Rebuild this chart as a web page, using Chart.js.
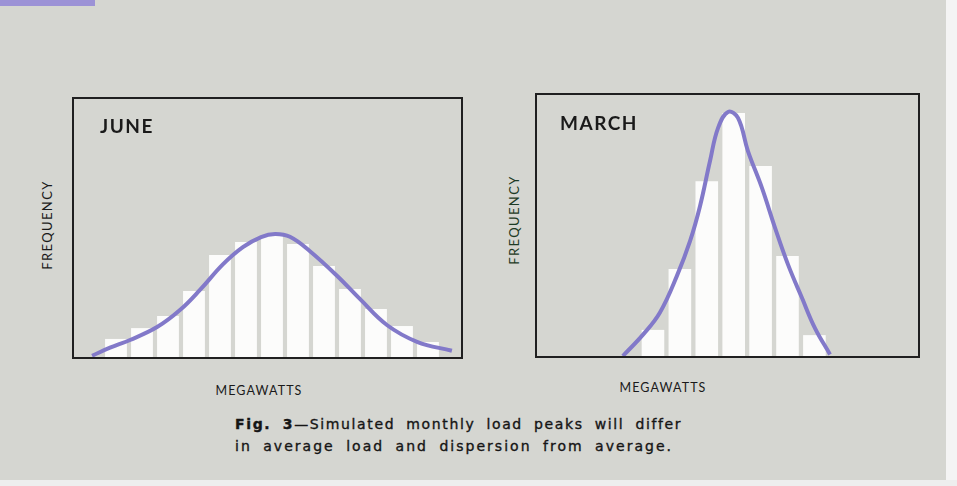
<!DOCTYPE html>
<html lang="en">
<head>
<meta charset="UTF-8">
<title>Fig. 3 - Simulated monthly load peaks</title>
<script src="https://cdn.jsdelivr.net/npm/chart.js"></script>
<style>
  html, body { margin: 0; padding: 0; }
  body {
    width: 957px; height: 486px; position: relative; overflow: hidden;
    background: #d5d6d1; font-family: "Lato", "Open Sans", sans-serif; color: #1a1a1a;
  }
  .frame { position: absolute; border: 2px solid #202020; }
  .frame canvas { position: absolute; left: 0; top: 0; }
  .title { position: absolute; font-weight: bold; font-size: 19px; letter-spacing: 1.5px; line-height: 19px; }
  .ylab, .xlab { position: absolute; font-size: 13px; letter-spacing: 1.4px; line-height: 13px; white-space: nowrap; }
  .ylab { transform: translate(-50%, -50%) rotate(-90deg); }
  .xlab { transform: translate(-50%, -50%); font-size: 12.5px; letter-spacing: 1.1px; }
  .caption {
    position: absolute; left: 235px; top: 413px; font-family: "DejaVu Sans", sans-serif;
    font-size: 14px; line-height: 22px; color: #151515; white-space: nowrap;
    word-spacing: 5px; -webkit-text-stroke: 0.35px #151515;
  }
  .caption span { display: block; }
  .topband { position: absolute; left: 0; top: 0; width: 95px; height: 6px; background: #9c92d6; }
  .edgeR { position: absolute; left: 946px; top: 0; width: 11px; height: 486px; background: #f4f4f4; }
  .edgeB { position: absolute; left: 0; top: 480px; width: 957px; height: 6px; background: #eeeeee; }
</style>
</head>
<body>

<div class="topband"></div>

<div class="frame" style="left:72px; top:97px; width:387px; height:258px;">
  <canvas id="juneChart"></canvas>
</div>
<div class="frame" style="left:535px; top:93px; width:381px; height:261px;">
  <canvas id="marchChart"></canvas>
</div>

<div class="title" style="left:100px; top:116px;">JUNE</div>
<div class="title" style="left:560px; top:113px;">MARCH</div>

<div class="ylab" style="left:47px; top:225px;">FREQUENCY</div>
<div class="ylab" style="left:514px; top:220px; color:#1d3a24;">FREQUENCY</div>
<div class="xlab" style="left:259px; top:390px;">MEGAWATTS</div>
<div class="xlab" style="left:663px; top:387px;">MEGAWATTS</div>

<div class="caption">
  <span data-w="447"><b>Fig. 3</b>—Simulated monthly load peaks will differ</span>
  <span data-w="438">in average load and dispersion from average.</span>
</div>

<div class="edgeR"></div>
<div class="edgeB"></div>

<script>
// Bin positions (megawatt class index) and bar heights, frequency as % of frame height
const juneBins = [0, 1, 2, 3, 4, 5, 6, 7, 8, 9, 10, 11, 12];
const juneFreq = [7, 11.2, 15.9, 25.6, 39.5, 44.6, 47.3, 43.8, 35.3, 26.4, 18.6, 12, 5.8];
// fitted curve
const juneCurveX = [-0.92, -0.23, 0.54, 1.58, 2.46, 3.23, 4.12, 4.88, 5.58, 6.12, 6.69, 7.46, 8.5, 9.38, 10.42, 11.58, 12.92];
const juneCurveY = [0.5, 3.6, 6.6, 11.6, 18.2, 26.0, 36.0, 42.6, 46.5, 47.7, 46.6, 41.0, 31.5, 22.5, 12.4, 5.9, 2.4];

const marchBins = [0, 1, 2, 3, 4, 5, 6];
const marchFreq = [10, 33.3, 67, 93.1, 72.8, 38.3, 8];
const marchCurveX = [-1.12, -0.37, 0.26, 0.89, 1.38, 1.75, 2.12, 2.42, 2.79, 3.16, 3.53, 4.05, 4.54, 5.02, 5.54, 6.02, 6.58];
const marchCurveY = [0, 8.2, 16.7, 30.7, 44.1, 57.5, 74.7, 87.4, 93.5, 91.2, 78.5, 64.4, 49, 35, 22.2, 10.7, 0.6];

// stretch caption lines to the printed width
document.querySelectorAll('.caption span').forEach(el => {
  el.style.display = 'inline-block';
  const w = el.getBoundingClientRect().width;
  const n = el.textContent.length;
  el.style.letterSpacing = ((+el.dataset.w - w) / n) + 'px';
  el.style.display = 'block';
});

function makeChart(id, bins, freq, cx, cy, xmin, xmax) {
  const ctx = document.getElementById(id).getContext('2d');
  return new Chart(ctx, {
    type: 'bar',
    data: {
      datasets: [
        {
          type: 'line',
          data: cx.map((x, i) => ({ x: x, y: cy[i] })),
          borderColor: '#8279c9',
          borderWidth: 4,
          pointRadius: 0,
          tension: 0.4,
          fill: false,
          order: 0
        },
        {
          type: 'bar',
          data: bins.map((b, i) => ({ x: b, y: freq[i] })),
          backgroundColor: '#fcfcfb',
          borderWidth: 0,
          barPercentage: 0.84,
          categoryPercentage: 1,
          order: 1
        }
      ]
    },
    options: {
      responsive: true,
      maintainAspectRatio: false,
      animation: false,
      layout: { padding: 0 },
      plugins: { legend: { display: false }, tooltip: { enabled: false } },
      scales: {
        x: { type: 'linear', min: xmin, max: xmax, display: false, offset: false },
        y: { min: 0, max: 100, display: false }
      }
    }
  });
}

makeChart('juneChart', juneBins, juneFreq, juneCurveX, juneCurveY, -1.615, 13.27);
makeChart('marchChart', marchBins, marchFreq, marchCurveX, marchCurveY, -4.31, 9.85);
</script>
</body>
</html>
